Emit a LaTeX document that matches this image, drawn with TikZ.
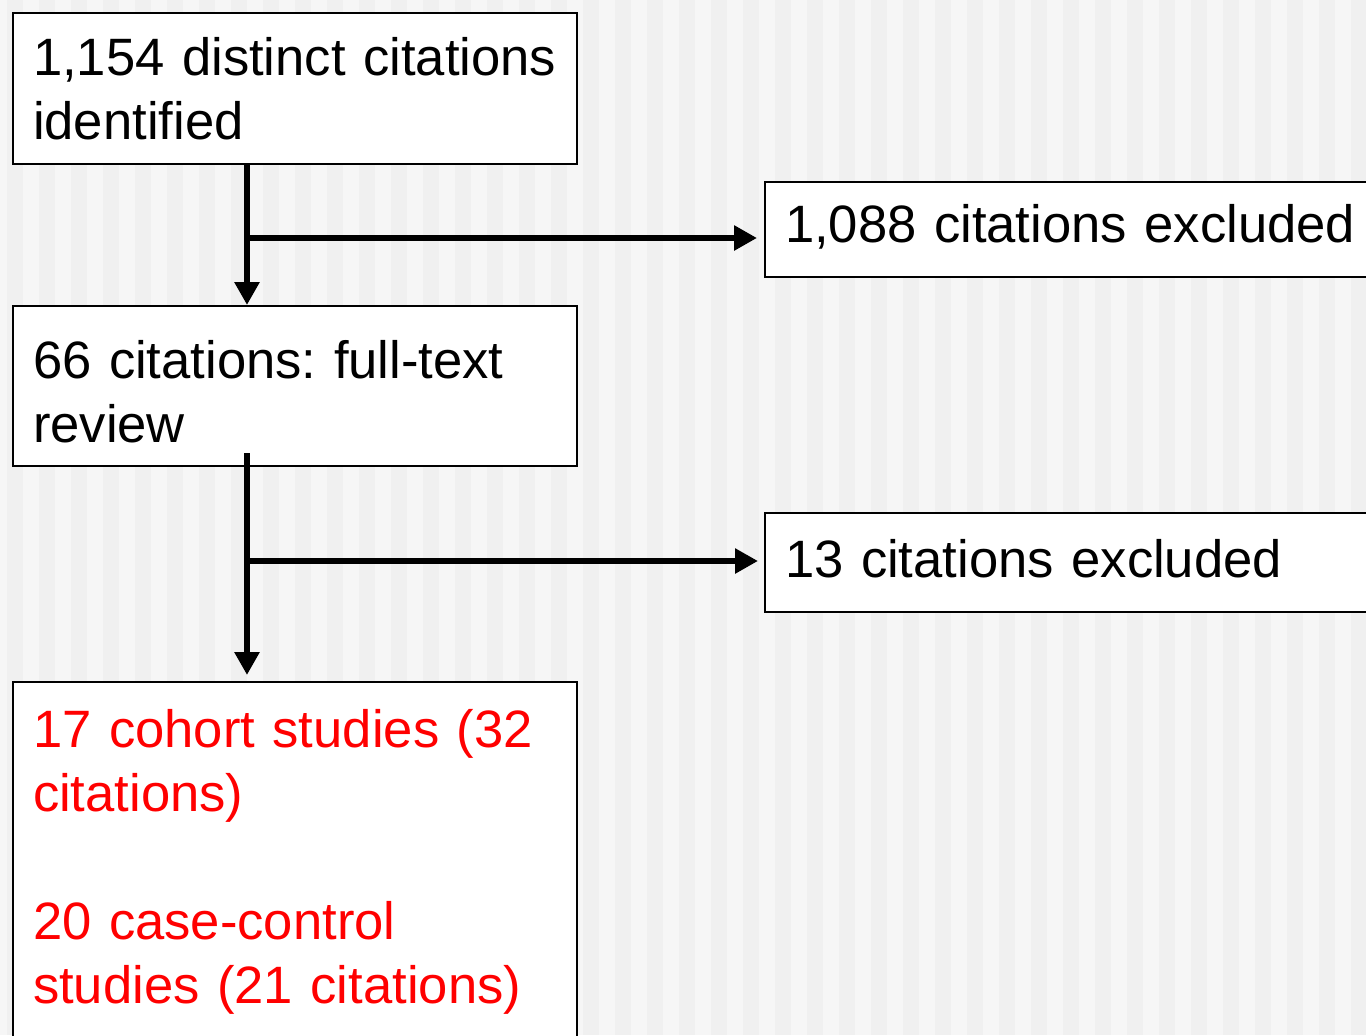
\documentclass[tikz,border=0pt]{standalone}
\usepackage{fontspec}
\setmainfont{Liberation Sans}
\frenchspacing
\usetikzlibrary{arrows.meta,positioning,calc}
\definecolor{stripe}{gray}{0.94}
\definecolor{stripebg}{gray}{0.965}
\tikzset{
  box/.style  = {draw=black, line width=1pt, fill=white, anchor=north west,
                 align=left, inner xsep=10pt, inner ysep=0pt, outer sep=0pt,
                 font=\fontsize{26.3pt}{32pt}\selectfont},
  boxw/.style = {box, text width=262pt},
  boxx/.style = {box, text width=300pt},
  boxr/.style = {boxw, text=red},
  arr/.style  = {-{Triangle[length=11.5pt,width=12pt]}, draw=black, line width=3pt},
}
\begin{document}
\begin{tikzpicture}[x=0.5pt, y=-0.5pt]
  \useasboundingbox (0,0) rectangle (1366,1035);
  \clip (0,0) rectangle (1366,1035);
  \fill[stripebg] (0,0) rectangle (1366,1035);
  \foreach \k in {0,...,42}{\fill[stripe] ({7+32*\k},0) rectangle ++(16,1035);}
  \node[boxw, text height=31pt, text depth=44.5pt] (found) at (13,13) {1,154 distinct citations\\identified};
  \node[boxx, text height=30pt, text depth=17.5pt] (excl1) at (765,182) {1,088 citations excluded};
  \node[boxw, text height=36pt, text depth=44pt] (review) at (13,306) {66 citations: full-text\\review};
  \node[boxx, text height=32pt, text depth=17.5pt] (excl2) at (765,513) {13 citations excluded};
  \node[boxr, text height=32.5pt, text depth=152pt] (incl) at (13,682) {17 cohort studies (32\\citations)\\[32pt]20 case-control\\studies (21 citations)};
  \coordinate (split1) at ([xshift=117pt,yshift=-37pt]found.south west);
  \coordinate (split2) at ([xshift=117pt,yshift=-47.5pt]review.south west);
  \draw[arr] ([xshift=117pt]found.south west) -- ([xshift=117pt,yshift=0.5pt]review.north west);
  \draw[arr, shorten >=4pt] (split1) -- (split1 -| excl1.west);
  \draw[arr, shorten >=3.5pt] ([xshift=117pt,yshift=6.5pt]review.south west) -- ([xshift=117pt]incl.north west);
  \draw[arr, shorten >=3.5pt] (split2) -- (split2 -| excl2.west);
\end{tikzpicture}
\end{document}
